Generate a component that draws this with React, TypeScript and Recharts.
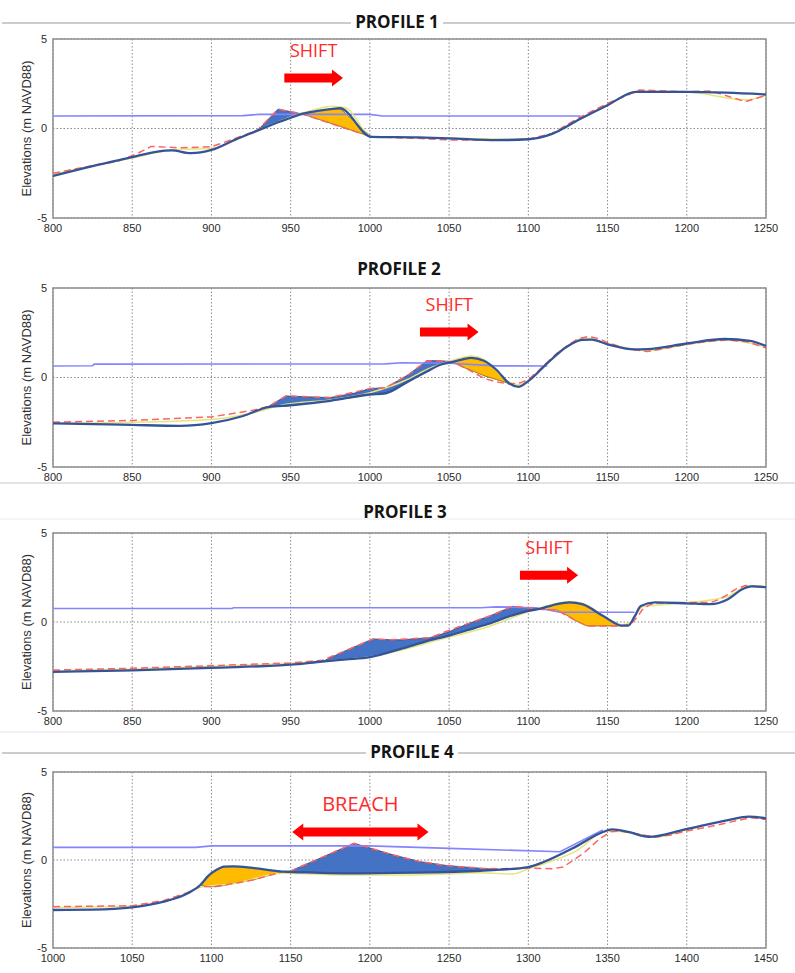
import React from "react";
import {
  ComposedChart,
  Line,
  Area,
  XAxis,
  YAxis,
  CartesianGrid,
  ReferenceArea,
  ReferenceLine,
} from "recharts";

type Pt = [number, number];

// ---------- axis ticks / labels ----------
const X_TICKS_A = [800, 850, 900, 950, 1000, 1050, 1100, 1150, 1200, 1250];
const X_TICKS_B = [1000, 1050, 1100, 1150, 1200, 1250, 1300, 1350, 1400, 1450];
const Y_TICKS = [-5, 0, 5];
const TITLES = ["PROFILE 1", "PROFILE 2", "PROFILE 3", "PROFILE 4"];
const Y_LABEL = "Elevations (m NAVD88)";

// ---------- PROFILE 1 ----------
const P1_NEW: Pt[] = [[800,-2.65],[825,-2.1],[850,-1.6],[865,-1.3],[875,-1.22],[887,-1.38],[900,-1.2],[915,-0.62],[929,-0.12],[942,0.35],[950,0.6],[957,0.82],[967,0.98],[975,1.08],[981,1.13],[1001,-0.47],[1030,-0.5],[1050,-0.55],[1080,-0.65],[1100,-0.6],[1115,-0.3],[1132,0.5],[1150,1.3],[1168,2.05],[1200,2.05],[1225,2.0],[1250,1.9]];
const P1_OLD: Pt[] = [[800,-2.5],[820,-2.15],[840,-1.85],[852,-1.45],[862,-1.0],[880,-1.08],[900,-1.02],[915,-0.55],[929,-0.1],[942,1.08],[957,0.82],[1001,-0.47],[1030,-0.55],[1050,-0.64],[1080,-0.65],[1100,-0.6],[1115,-0.28],[1132,0.6],[1150,1.4],[1170,2.15],[1200,2.05],[1215,2.1],[1237,1.5],[1250,1.85]];
const P1_YEL: Pt[] = [[800,-2.55],[850,-1.65],[875,-1.2],[900,-1.1],[929,-0.1],[957,0.85],[977,1.25],[985,1.15],[1001,-0.45],[1050,-0.55],[1100,-0.6],[1150,1.35],[1170,2.1],[1200,2.05],[1237,1.6],[1250,1.85]];
const P1_WATER: Pt[] = [[800,0.7],[920,0.72],[930,0.79],[1000,0.79],[1008,0.7],[1133,0.7]];
const P1_BLUE_X = [929, 942, 950, 957];
const P1_BLUE_LO = [-0.12, 0.35, 0.6, 0.82];
const P1_BLUE_HI = [-0.12, 1.08, 0.94, 0.82];
const P1_ORANGE_X = [957, 967, 975, 981, 1001];
const P1_ORANGE_LO = [0.82, 0.53, 0.3, 0.12, -0.47];
const P1_ORANGE_HI = [0.82, 0.98, 1.08, 1.13, -0.47];
const P1_ARROW = { label: "SHIFT", from: 946, to: 983, y: 2.82, double: false };

// ---------- PROFILE 2 ----------
const P2_NEW: Pt[] = [[800,-2.56],[825,-2.6],[850,-2.65],[880,-2.7],[900,-2.55],[920,-2.15],[936,-1.65],[950,-1.55],[975,-1.3],[1000,-0.95],[1010,-0.88],[1024,-0.23],[1036,0.33],[1044,0.7],[1052,0.87],[1058,1.0],[1064,1.1],[1072,0.94],[1080,0.42],[1088,-0.34],[1094,-0.52],[1100,-0.2],[1112,0.8],[1124,1.7],[1134,2.1],[1140,2.12],[1150,1.85],[1167,1.57],[1175,1.58],[1200,1.9],[1224,2.15],[1240,2.05],[1251,1.72]];
const P2_OLD: Pt[] = [[800,-2.5],[850,-2.4],[900,-2.2],[925,-1.85],[936,-1.62],[947,-1.03],[975,-1.12],[1000,-0.62],[1010,-0.57],[1024,0.14],[1036,0.94],[1052,0.88],[1060,0.55],[1072,-0.05],[1080,-0.25],[1088,-0.36],[1095,-0.3],[1100,-0.12],[1106,0.35],[1112,0.85],[1118,1.35],[1125,1.8],[1131,2.15],[1138,2.3],[1145,2.15],[1150,1.95],[1162,1.6],[1175,1.45],[1188,1.65],[1200,1.85],[1212,2.0],[1225,2.1],[1238,2.0],[1250,1.65]];
const P2_YEL: Pt[] = [[800,-2.55],[850,-2.5],[900,-2.35],[925,-2.0],[947,-1.5],[975,-1.25],[1000,-0.85],[1024,-0.1],[1036,0.45],[1052,0.95],[1064,1.2],[1072,1.0],[1088,-0.25],[1094,-0.4],[1112,0.8],[1136,2.2],[1150,1.9],[1175,1.5],[1200,1.85],[1225,2.1],[1250,1.7]];
const P2_WATER: Pt[] = [[800,0.64],[825,0.66],[826,0.75],[1010,0.76],[1020,0.82],[1050,0.8],[1080,0.65],[1112,0.64]];
const P2_BLUE_X = [936, 947, 960, 975, 990, 1000, 1010, 1024, 1036, 1044, 1052];
const P2_BLUE_LO = [-1.62, -1.6, -1.45, -1.3, -1.1, -0.95, -0.88, -0.23, 0.33, 0.7, 0.87];
const P2_BLUE_HI = [-1.62, -1.03, -1.08, -1.12, -0.88, -0.62, -0.57, 0.14, 0.94, 0.94, 0.88];
const P2_ORANGE_X = [1052, 1058, 1064, 1072, 1080, 1088];
const P2_ORANGE_LO = [0.87, 0.6, 0.4, 0.1, -0.12, -0.34];
const P2_ORANGE_HI = [0.87, 1.0, 1.1, 0.94, 0.42, -0.34];
const P2_ARROW = { label: "SHIFT", from: 1031.6, to: 1068.6, y: 2.54, double: false };

// ---------- PROFILE 3 ----------
const P3_NEW: Pt[] = [[800,-2.8],[850,-2.72],[900,-2.57],[950,-2.4],[970,-2.22],[985,-2.1],[1000,-1.97],[1020,-1.5],[1035,-1.1],[1050,-0.76],[1062,-0.45],[1075,-0.1],[1089,0.35],[1100,0.63],[1106,0.72],[1112,0.86],[1118,1.0],[1126,1.1],[1134,1.0],[1147,0.35],[1159,-0.2],[1163,-0.2],[1167,0.3],[1171,0.9],[1180,1.1],[1200,1.05],[1215,1.0],[1226,1.28],[1235,1.84],[1241,2.0],[1252,1.94]];
const P3_OLD: Pt[] = [[800,-2.7],[850,-2.6],[900,-2.45],[950,-2.3],[970,-2.15],[985,-1.6],[1002,-0.95],[1013,-1.0],[1038,-0.88],[1055,-0.3],[1076,0.35],[1090,0.88],[1101,0.78],[1106,0.72],[1118,0.67],[1130,0.07],[1137,-0.22],[1159,-0.22],[1165,-0.1],[1169,0.3],[1172,0.7],[1176,0.95],[1180,1.05],[1200,1.1],[1215,1.1],[1220,1.25],[1225,1.5],[1231,1.85],[1237,2.05],[1252,1.95]];
const P3_YEL: Pt[] = [[800,-2.75],[900,-2.5],[970,-2.2],[1000,-1.95],[1050,-0.85],[1075,-0.25],[1090,0.25],[1106,0.75],[1118,1.05],[1126,1.15],[1134,1.05],[1159,-0.15],[1165,0.0],[1172,0.85],[1200,1.08],[1225,1.4],[1240,2.05],[1252,1.98]];
const P3_WATER: Pt[] = [[800,0.76],[913,0.76],[914,0.8],[1070,0.8],[1080,0.85],[1105,0.8],[1120,0.55],[1167,0.55]];
const P3_BLUE_X = [970, 985, 1002, 1013, 1020, 1038, 1050, 1055, 1062, 1076, 1090, 1101, 1106];
const P3_BLUE_LO = [-2.22, -2.1, -1.95, -1.65, -1.5, -1.0, -0.76, -0.65, -0.45, -0.08, 0.38, 0.63, 0.72];
const P3_BLUE_HI = [-2.22, -1.6, -0.95, -1.0, -1.0, -0.88, -0.55, -0.35, -0.1, 0.35, 0.88, 0.78, 0.72];
const P3_ORANGE_X = [1106, 1112, 1118, 1126, 1130, 1134, 1137, 1147, 1159];
const P3_ORANGE_LO = [0.72, 0.7, 0.67, 0.3, 0.07, -0.1, -0.22, -0.22, -0.22];
const P3_ORANGE_HI = [0.72, 0.86, 1.0, 1.1, 1.07, 1.0, 0.88, 0.35, -0.22];
const P3_ARROW = { label: "SHIFT", from: 1094.7, to: 1131.4, y: 2.63, double: false };

// ---------- PROFILE 4 ----------
const P4_NEW: Pt[] = [[1000,-2.84],[1025,-2.82],[1050,-2.69],[1070,-2.37],[1085,-1.89],[1093,-1.42],[1098,-0.9],[1103,-0.57],[1108,-0.38],[1114,-0.36],[1126,-0.45],[1145,-0.66],[1165,-0.72],[1185,-0.76],[1227,-0.72],[1270,-0.61],[1282,-0.55],[1300,-0.4],[1310,-0.1],[1330,0.76],[1346,1.55],[1353,1.74],[1363,1.6],[1376,1.32],[1399,1.74],[1426,2.27],[1439,2.46],[1450,2.37]];
const P4_OLD: Pt[] = [[1000,-2.65],[1050,-2.6],[1070,-2.3],[1085,-1.85],[1093,-1.5],[1101,-1.52],[1114,-1.33],[1126,-1.14],[1145,-0.66],[1150,-0.62],[1170,0.16],[1190,0.95],[1215,0.28],[1232,-0.1],[1249,-0.32],[1270,-0.47],[1282,-0.5],[1300,-0.45],[1315,-0.5],[1322,-0.4],[1335,0.4],[1345,1.2],[1352,1.6],[1358,1.65],[1365,1.55],[1380,1.3],[1390,1.42],[1400,1.65],[1412,1.85],[1425,2.1],[1440,2.4],[1450,2.3]];
const P4_YEL: Pt[] = [[1000,-2.7],[1050,-2.62],[1085,-1.9],[1093,-1.55],[1114,-1.35],[1145,-0.75],[1185,-0.85],[1230,-0.85],[1270,-0.72],[1290,-0.8],[1300,-0.5],[1330,0.5],[1350,1.65],[1365,1.55],[1380,1.3],[1400,1.7],[1440,2.45],[1450,2.35]];
const P4_WATER: Pt[] = [[1000,0.72],[1090,0.72],[1100,0.8],[1200,0.8],[1250,0.66],[1320,0.47],[1347,1.7]];
const P4_BLUE_X = [1145, 1150, 1170, 1190, 1215, 1232, 1249, 1270, 1282];
const P4_BLUE_LO = [-0.66, -0.66, -0.72, -0.76, -0.74, -0.72, -0.67, -0.61, -0.55];
const P4_BLUE_HI = [-0.66, -0.62, 0.16, 0.95, 0.28, -0.1, -0.32, -0.47, -0.55];
const P4_ORANGE_X = [1093, 1098, 1103, 1108, 1114, 1126, 1145];
const P4_ORANGE_LO = [-1.42, -1.5, -1.52, -1.45, -1.33, -1.14, -0.66];
const P4_ORANGE_HI = [-1.42, -0.9, -0.57, -0.38, -0.36, -0.45, -0.66];
const P4_ARROW = { label: "BREACH", from: 1151, to: 1237, y: 1.59, double: true };

// ---------- layout config ----------
const PANELS = [
  { top: 39, h: 179, domain: [800, 1250], ticks: X_TICKS_A, title: TITLES[0], tx: 397, ty: 22, line: true,
    newP: P1_NEW, oldP: P1_OLD, yel: P1_YEL, water: P1_WATER,
    blue: [P1_BLUE_X, P1_BLUE_LO, P1_BLUE_HI], orange: [P1_ORANGE_X, P1_ORANGE_LO, P1_ORANGE_HI], arrow: P1_ARROW, fs: 18 },
  { top: 288, h: 179, domain: [800, 1250], ticks: X_TICKS_A, title: TITLES[1], tx: 399, ty: 269, line: false,
    newP: P2_NEW, oldP: P2_OLD, yel: P2_YEL, water: P2_WATER,
    blue: [P2_BLUE_X, P2_BLUE_LO, P2_BLUE_HI], orange: [P2_ORANGE_X, P2_ORANGE_LO, P2_ORANGE_HI], arrow: P2_ARROW, fs: 18 },
  { top: 533, h: 178, domain: [800, 1250], ticks: X_TICKS_A, title: TITLES[2], tx: 405, ty: 512, line: false,
    newP: P3_NEW, oldP: P3_OLD, yel: P3_YEL, water: P3_WATER,
    blue: [P3_BLUE_X, P3_BLUE_LO, P3_BLUE_HI], orange: [P3_ORANGE_X, P3_ORANGE_LO, P3_ORANGE_HI], arrow: P3_ARROW, fs: 18 },
  { top: 772, h: 176, domain: [1000, 1450], ticks: X_TICKS_B, title: TITLES[3], tx: 412, ty: 752, line: true,
    newP: P4_NEW, oldP: P4_OLD, yel: P4_YEL, water: P4_WATER,
    blue: [P4_BLUE_X, P4_BLUE_LO, P4_BLUE_HI], orange: [P4_ORANGE_X, P4_ORANGE_LO, P4_ORANGE_HI], arrow: P4_ARROW, fs: 20 },
];

const W = 795;
const MARGIN_TOP = 5;
const X_AXIS_H = 22;
const TICK_STYLE = { fontSize: 11, fill: "#2a2a2a", fontFamily: "Liberation Sans, Arial, sans-serif" };

const pts = (a: Pt[]) => a.map(([x, y]) => ({ x, y }));
const rng = (xs: number[], lo: number[], hi: number[]) => xs.map((x, i) => ({ x, r: [lo[i], hi[i]] }));

function makeArrowShape(label: string, double: boolean, fs: number) {
  return (props: any) => {
    const { x1, y1, x2 } = props;
    const y = y1;
    const h = 4.5;
    const H = 8.5;
    const L = 11;
    const p = double
      ? [[x1, y], [x1 + L, y - H], [x1 + L, y - h], [x2 - L, y - h], [x2 - L, y - H], [x2, y], [x2 - L, y + H], [x2 - L, y + h], [x1 + L, y + h], [x1 + L, y + H]]
      : [[x1, y - h], [x2 - L, y - h], [x2 - L, y - H], [x2, y], [x2 - L, y + H], [x2 - L, y + h], [x1, y + h]];
    return (
      <g>
        <polygon points={p.map((q) => q.join(",")).join(" ")} fill="#ff0000" />
        <text
          x={(x1 + x2) / 2}
          y={y - 28 + fs * 0.36}
          textAnchor="middle"
          fontSize={fs}
          fill="#ff2b2b"
          fontFamily="Open Sans, Noto Sans, sans-serif"
        >
          {label}
        </text>
      </g>
    );
  };
}

function Panel({ cfg }: { cfg: any }) {
  const { top, h, domain, ticks, newP, oldP, yel, water, blue, orange, arrow, fs } = cfg;
  return (
    <div style={{ position: "absolute", left: 0, top: top - MARGIN_TOP }}>
      <ComposedChart width={W} height={h + MARGIN_TOP + X_AXIS_H} margin={{ top: MARGIN_TOP, right: 29, left: 0, bottom: 0 }}>
        <CartesianGrid stroke="#8a8a8a" strokeDasharray="1.5 2" strokeWidth={1} />
        <XAxis
          type="number"
          dataKey="x"
          domain={domain}
          ticks={ticks}
          interval={0}
          allowDataOverflow
          tickLine={false}
          axisLine={false}
          tickSize={4}
          tickMargin={2}
          height={X_AXIS_H}
          tick={TICK_STYLE}
        />
        <YAxis
          type="number"
          domain={[-5, 5]}
          ticks={Y_TICKS}
          interval={0}
          allowDataOverflow
          tickLine={false}
          axisLine={false}
          tickSize={4}
          tickMargin={2}
          width={53}
          tick={TICK_STYLE}
        />
        <Line data={pts(water)} dataKey="y" type="linear" stroke="#8484ff" strokeWidth={1.6} dot={false} activeDot={false} isAnimationActive={false} />
        <Line data={pts(yel)} dataKey="y" type="monotone" stroke="#e6e67a" strokeWidth={1.5} dot={false} activeDot={false} isAnimationActive={false} />
        <Line data={pts(oldP)} dataKey="y" type="linear" stroke="#ff6262" strokeWidth={1.5} strokeDasharray="7 4" dot={false} activeDot={false} isAnimationActive={false} />
        <Area data={rng(blue[0], blue[1], blue[2])} dataKey="r" type="linear" fill="#4472c4" fillOpacity={1} stroke="#24427c" strokeWidth={0.8} dot={false} activeDot={false} isAnimationActive={false} />
        <Area data={rng(orange[0], orange[1], orange[2])} dataKey="r" type="linear" fill="#ffbb00" fillOpacity={1} stroke="#7a6420" strokeWidth={0.8} dot={false} activeDot={false} isAnimationActive={false} />
        <Line data={pts(newP)} dataKey="y" type="monotone" stroke="#34549a" strokeWidth={2.3} dot={false} activeDot={false} isAnimationActive={false} />
        <ReferenceArea x1={domain[0]} x2={domain[1]} y1={-5} y2={5} fill="none" stroke="#909090" strokeWidth={1.5} ifOverflow="visible" />
        <ReferenceLine
          segment={[{ x: arrow.from, y: arrow.y }, { x: arrow.to, y: arrow.y }]}
          ifOverflow="visible"
          shape={makeArrowShape(arrow.label, arrow.double, fs)}
        />
      </ComposedChart>
    </div>
  );
}

export default function App() {
  return (
    <div style={{ position: "absolute", left: 0, top: 0, width: W, height: 973, background: "#fff", overflow: "hidden" }}>
      {PANELS.map((cfg, i) => (
        <Panel key={i} cfg={cfg} />
      ))}
      <svg width={W} height={973} style={{ position: "absolute", left: 0, top: 0, pointerEvents: "none" }}>
        <line x1={0} x2={W} y1={483} y2={483} stroke="#c8c8c8" strokeWidth={1} />
        <line x1={0} x2={W} y1={519} y2={519} stroke="#ececec" strokeWidth={1} />
        <line x1={0} x2={W} y1={732} y2={732} stroke="#e4e4e4" strokeWidth={1} />
        {PANELS.map((p, i) => (
          <g key={i}>
            {p.line && <line x1={2} x2={W} y1={p.ty + 1} y2={p.ty + 1} stroke="#9a9a9a" strokeWidth={1.2} />}
            {p.line && <rect x={p.tx - 46} y={p.ty - 9} width={92} height={18} fill="#fff" />}
            <text
              x={p.tx}
              y={p.ty + 6}
              textAnchor="middle"
              fontSize={17}
              fontWeight="bold"
              fill="#141414"
              fontFamily="Open Sans, Noto Sans, sans-serif"
            >
              {p.title}
            </text>
            <text
              x={0}
              y={0}
              transform={`translate(31, ${p.top + p.h / 2}) rotate(-90)`}
              textAnchor="middle"
              fontSize={12}
              fill="#333"
              textLength={136}
              lengthAdjust="spacingAndGlyphs"
              fontFamily="Liberation Sans, Arial, sans-serif"
            >
              {Y_LABEL}
            </text>
          </g>
        ))}
      </svg>
    </div>
  );
}
